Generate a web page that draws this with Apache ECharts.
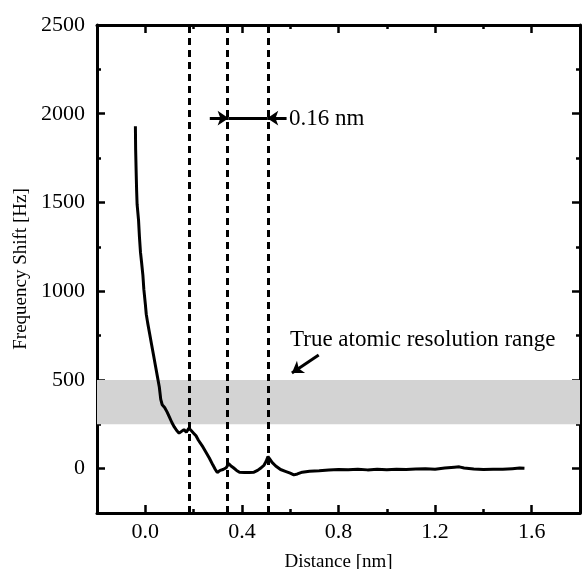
<!DOCTYPE html>
<html lang="en">
<head>
    <meta charset="UTF-8">
    <script type="text/javascript" src="https://cdn.jsdelivr.net/npm/echarts@6/dist/echarts.min.js"></script>
    <style>
        html, body {margin: 0; padding: 0; background: #fff;}
        #chart {width: 582px; height: 569px;}
    </style>
</head>
<body>
<div id="chart"></div>
<script>
    // curve
    var distance = [-0.041, -0.040, -0.038, -0.036, -0.034, -0.031, -0.028, -0.024, -0.020, -0.016,
        -0.010, -0.006, 0.000, 0.004, 0.010, 0.018, 0.026, 0.034, 0.042, 0.050,
        0.058, 0.064, 0.070, 0.080, 0.090, 0.100, 0.110, 0.120, 0.130, 0.140,
        0.150, 0.160, 0.170, 0.180, 0.190, 0.200, 0.210, 0.220, 0.235, 0.250,
        0.265, 0.280, 0.290, 0.298, 0.310, 0.322, 0.335, 0.345, 0.355, 0.365,
        0.378, 0.390, 0.410, 0.430, 0.450, 0.465, 0.480, 0.492, 0.500, 0.508,
        0.515, 0.525, 0.540, 0.560, 0.580, 0.600, 0.615, 0.630, 0.650, 0.680,
        0.720, 0.760, 0.800, 0.840, 0.880, 0.920, 0.960, 1.000, 1.040, 1.080,
        1.120, 1.160, 1.200, 1.240, 1.280, 1.300, 1.320, 1.360, 1.400, 1.440,
        1.480, 1.520, 1.550, 1.570];
    var freqShift = [1930, 1800, 1680, 1570, 1490, 1500, 1400, 1300, 1220, 1170,
        1090, 1010, 930, 870, 820, 760, 700, 640, 580, 520,
        460, 390, 360, 345, 320, 290, 260, 235, 215, 200,
        210, 220, 205, 228, 215, 200, 185, 160, 130, 95,
        60, 20, -5, -22, -10, -5, 5, 28, 15, 5,
        -10, -20, -22, -22, -20, -10, 5, 20, 40, 68,
        55, 35, 15, -5, -15, -25, -35, -30, -20, -15,
        -12, -8, -5, -6, -3, -7, -4, -6, -3, -5,
        -2, 0, -3, 3, 8, 10, 4, -2, -5, -3,
        -4, 0, 3, 2];

    var xMajor = [0, 0.4, 0.8, 1.2, 1.6];
    var xMinor = [0.2, 0.6, 1.0, 1.4];
    var yMajor = [0, 500, 1000, 1500, 2000, 2500];
    var yMinor = [250, 750, 1250, 1750, 2250];

    var dashedAt = [0.185, 0.345, 0.505];
    var band = [250, 500];
    var spacingY = 1975;
    var spacingArrow = [0.267, 0.345, 0.505, 0.585];
    var bandArrow = [[0.718, 640], [0.607, 539]];

    var points = [];
    for (var i = 0; i < distance.length; i++) {
        points.push([distance[i], freqShift[i]]);
    }

    var font = 'Liberation Serif';
    var black = '#000';

    function xAx(pos, ticks, len, line, labels) {
        return {
            type: 'value', min: -0.2, max: 1.8, position: pos,
            axisLine: {show: line, onZero: false, lineStyle: {color: black, width: 3}},
            axisTick: {show: true, inside: true, length: len, customValues: ticks, lineStyle: {color: black, width: 2.5}},
            axisLabel: labels ? {
                customValues: xMajor, margin: 8, color: black, fontFamily: font, fontSize: 22,
                formatter: function (v) { return v.toFixed(1); }
            } : {show: false},
            splitLine: {show: false}
        };
    }
    function yAx(pos, ticks, len, line, labels) {
        return {
            type: 'value', min: -250, max: 2500, position: pos,
            axisLine: {show: line, onZero: false, lineStyle: {color: black, width: 3}},
            axisTick: {show: true, inside: true, length: len, customValues: ticks, lineStyle: {color: black, width: 2.5}},
            axisLabel: labels ? {
                customValues: yMajor, margin: 12, color: black, fontFamily: font, fontSize: 22,
                formatter: function (v) { return String(v); }
            } : {show: false},
            splitLine: {show: false}
        };
    }

    var xAxes = [
        xAx('bottom', xMinor, 4, true, true),
        xAx('bottom', xMajor, 8, false, false),
        xAx('top', xMinor, 4, true, false),
        xAx('top', xMajor, 8, false, false)
    ];
    xAxes[0].name = 'Distance [nm]';
    xAxes[0].nameLocation = 'middle';
    xAxes[0].nameGap = 40;
    xAxes[0].nameTextStyle = {color: black, fontFamily: font, fontSize: 19};

    var yAxes = [
        yAx('left', yMinor, 4, true, true),
        yAx('left', yMajor, 8, false, false),
        yAx('right', yMinor, 4, true, false),
        yAx('right', yMajor, 8, false, false)
    ];
    yAxes[0].name = 'Frequency Shift [Hz]';
    yAxes[0].nameLocation = 'middle';
    yAxes[0].nameGap = 62;
    yAxes[0].nameTextStyle = {color: black, fontFamily: font, fontSize: 19};

    var myChart = echarts.init(document.getElementById('chart'));
    myChart.setOption({
        backgroundColor: '#fff',
        animation: false,
        grid: {left: 97, right: 2, top: 25, bottom: 56, containLabel: false, outerBoundsMode: 'none'},
        xAxis: xAxes,
        yAxis: yAxes,
        graphic: [
            {type: 'text', x: 289, y: 119, style: {text: '0.16 nm', fill: black, font: '23px "Liberation Serif"', verticalAlign: 'middle'}},
            {type: 'text', x: 290, y: 340, style: {text: 'True atomic resolution range', fill: black, font: '23px "Liberation Serif"', verticalAlign: 'middle'}}
        ],
        series: [
            {
                name: 'band', type: 'line', data: [], silent: true, z: 1,
                markArea: {
                    silent: true,
                    itemStyle: {color: '#d3d3d3'},
                    data: [[{yAxis: band[0]}, {yAxis: band[1]}]]
                }
            },
            {
                name: 'curve', type: 'line', data: points, showSymbol: false, z: 3,
                lineStyle: {color: black, width: 3},
                markLine: {
                    silent: true, symbol: 'none', label: {show: false},
                    lineStyle: {color: black, width: 3, type: [7, 5]},
                    data: dashedAt.map(function (x) { return {xAxis: x}; })
                }
            },
            {
                name: 'arrows', type: 'line', data: [], z: 4,
                markLine: {
                    silent: true, label: {show: false}, symbolSize: 11,
                    lineStyle: {color: black, width: 3, type: 'solid'},
                    data: [
                        [{coord: [spacingArrow[0], spacingY], symbol: 'none'}, {coord: [spacingArrow[1], spacingY], symbol: 'arrow'}],
                        [{coord: [spacingArrow[1], spacingY], symbol: 'none'}, {coord: [spacingArrow[2], spacingY], symbol: 'none'}],
                        [{coord: [spacingArrow[3], spacingY], symbol: 'none'}, {coord: [spacingArrow[2], spacingY], symbol: 'arrow'}],
                        [{coord: bandArrow[0], symbol: 'none'}, {coord: bandArrow[1], symbol: 'arrow'}]
                    ]
                }
            }
        ]
    });
</script>
</body>
</html>
